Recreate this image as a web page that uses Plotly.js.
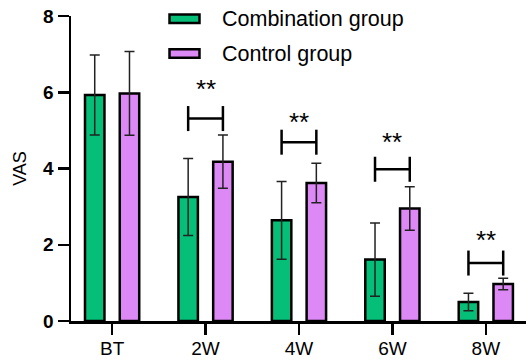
<!DOCTYPE html>
<html>
<head>
<meta charset="utf-8">
<script src="https://cdn.plot.ly/plotly-3.0.1.min.js"></script>
<style>html,body{margin:0;padding:0;background:#fff;}#chart{width:526px;height:360px;}</style>
</head>
<body>
<div id="chart"></div>
<script>
// ---- data ----
const categories = ["BT", "2W", "4W", "6W", "8W"];
const combinationMean = [5.93, 3.25, 2.64, 1.61, 0.50];
const combinationSD   = [1.05, 1.01, 1.02, 0.96, 0.23];
const controlMean     = [5.97, 4.18, 3.62, 2.95, 0.97];
const controlSD       = [1.10, 0.70, 0.52, 0.57, 0.15];
const sigCategories   = ["2W", "4W", "6W", "8W"];
const sigBracketY     = [5.31, 4.69, 3.98, 1.52];
const sigLabelY       = [6.20, 5.33, 4.80, 2.23];
const sigLabels       = ["**", "**", "**", "**"];
const seriesNames     = ["Combination group", "Control group"];
const yTicks          = [0, 2, 4, 6, 8];

// ---- style ----
const FONT = "Liberation Sans, Arial, sans-serif";
const GREEN = "#05BE78";
const PURPLE = "#DC88F5";
const BARGAP = 0.256;
const halfSlot = (1 - BARGAP) / 4; // offset of each bar center from category center

const errStyle = {type: "data", visible: true, color: "#222", thickness: 1.5, width: 5};

const traces = [
  {type: "bar", name: seriesNames[0], x: categories, y: combinationMean,
   error_y: Object.assign({array: combinationSD}, errStyle),
   marker: {color: GREEN, line: {color: "#000", width: 2.5}}, showlegend: false},
  {type: "bar", name: seriesNames[1], x: categories, y: controlMean,
   error_y: Object.assign({array: controlSD}, errStyle),
   marker: {color: PURPLE, line: {color: "#000", width: 2.5}}, showlegend: false}
];

const shapes = [];
const annotations = [];
sigCategories.forEach((c, k) => {
  const i = categories.indexOf(c);
  const yv = sigBracketY[k];
  const ln = {color: "#000", width: 2.5};
  shapes.push({type: "line", xref: "x", yref: "y", x0: i - halfSlot, x1: i + halfSlot, y0: yv, y1: yv, line: ln});
  [i - halfSlot, i + halfSlot].forEach(xx => {
    shapes.push({type: "line", xref: "x", yref: "y", ysizemode: "pixel", yanchor: yv,
                 x0: xx, x1: xx, y0: -12.5, y1: 12.5, line: ln});
  });
  annotations.push({xref: "x", yref: "y", x: i, y: sigLabelY[k], yshift: -4, yanchor: "middle",
                    text: sigLabels[k], showarrow: false,
                    font: {family: FONT, size: 26, color: "#000"}});
});

// manual legend
const legendColors = [GREEN, PURPLE];
const legendY = [0.991, 0.877];
seriesNames.forEach((n, k) => {
  shapes.push({type: "rect", xref: "paper", yref: "paper",
               x0: 0.2165, x1: 0.2824, y0: legendY[k] - 0.0136, y1: legendY[k] + 0.0136,
               fillcolor: legendColors[k], line: {color: "#000", width: 2.5}});
  annotations.push({xref: "paper", yref: "paper", x: 0.3275, y: legendY[k], xanchor: "left", yanchor: "middle",
                    text: n, showarrow: false, font: {family: FONT, size: 21.5, color: "#000"}});
});

const layout = {
  width: 526, height: 360,
  margin: {l: 71, r: 0, t: 16, b: 39, pad: 0},
  paper_bgcolor: "#fff", plot_bgcolor: "#fff",
  barmode: "group", bargap: BARGAP, bargroupgap: 0.44,
  font: {family: FONT, color: "#000"},
  xaxis: {type: "category", range: [-0.44, 4.43], showline: true, linecolor: "#000", linewidth: 2.5,
          ticks: "outside", ticklen: 11, tickwidth: 2.5, tickcolor: "#000", ticklabelstandoff: -2,
          tickfont: {family: FONT, size: 19, color: "#000"}, showgrid: false, zeroline: false, fixedrange: true},
  yaxis: {range: [0, 8], tickvals: yTicks, showline: true, linecolor: "#000", linewidth: 2.5,
          ticks: "outside", ticklen: 11, tickwidth: 2.5, tickcolor: "#000",
          tickfont: {family: FONT, size: 19, color: "#000", weight: "bold"},
          title: {text: "VAS", font: {family: FONT, size: 18, color: "#000"}, standoff: 12},
          showgrid: false, zeroline: false, fixedrange: true},
  shapes: shapes, annotations: annotations, showlegend: false
};

Plotly.newPlot("chart", traces, layout, {displayModeBar: false, staticPlot: true});
</script>
</body>
</html>
